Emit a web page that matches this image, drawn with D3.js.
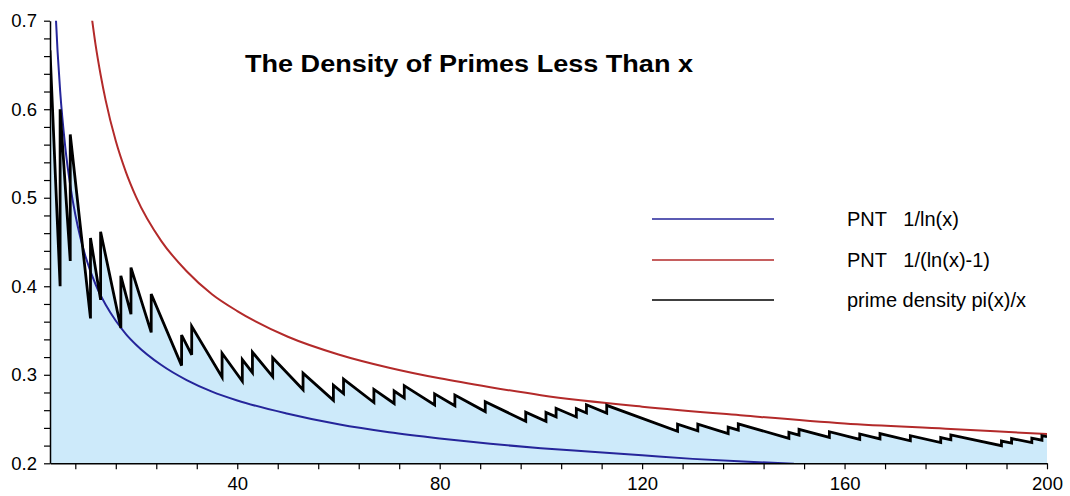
<!DOCTYPE html>
<html>
<head>
<meta charset="utf-8">
<script src="https://cdn.jsdelivr.net/npm/d3@7"></script>
<style>
  body { margin: 0; background: #fff; }
  text { font-family: "Liberation Sans", Arial, Helvetica, sans-serif; }
</style>
</head>
<body>
<svg id="chart"></svg>
<script>
// primes below 200 (for pi(x)/x)
const primes = [2, 3, 5, 7, 11, 13, 17, 19, 23, 29, 31, 37, 41, 43, 47, 53, 59, 61, 67, 71,
    73, 79, 83, 89, 97, 101, 103, 107, 109, 113, 127, 131, 137, 139, 149, 151, 157, 163,
    167, 173, 179, 181, 191, 193, 197, 199];

// PNT 1/ln(x)
const blueX = [4, 4.5, 5, 6, 7, 8, 9, 10, 12, 14, 16, 18, 20, 25, 30, 35, 40, 50, 60, 70,
    80, 90, 100, 110, 120, 130, 140, 150];
const blueY = [0.721, 0.665, 0.621, 0.558, 0.514, 0.481, 0.455, 0.434, 0.402, 0.379, 0.361,
    0.346, 0.334, 0.311, 0.294, 0.281, 0.271, 0.256, 0.244, 0.235, 0.228, 0.222, 0.217,
    0.213, 0.209, 0.205, 0.202, 0.1996];

// PNT 1/(ln(x)-1)
const redX = [11, 12, 13, 14, 16, 18, 20, 25, 30, 35, 40, 50, 60, 70, 80, 90, 100, 120,
    140, 160, 180, 200];
const redY = [0.715, 0.673, 0.639, 0.610, 0.564, 0.529, 0.501, 0.451, 0.417, 0.391, 0.372,
    0.343, 0.323, 0.308, 0.296, 0.286, 0.277, 0.264, 0.254, 0.245, 0.239, 0.233];

const xTickValues = [8, 16, 24, 32, 40, 48, 56, 64, 72, 80, 88, 96, 104, 112, 120, 128, 136,
    144, 152, 160, 168, 176, 184, 192, 200];
const xLabelValues = [40, 80, 120, 160, 200];
const yTickValues = [0.2, 0.22, 0.24, 0.26, 0.28, 0.3, 0.32, 0.34, 0.36, 0.38, 0.4, 0.42,
    0.44, 0.46, 0.48, 0.5, 0.52, 0.54, 0.56, 0.58, 0.6, 0.62, 0.64, 0.66, 0.68, 0.7];
const yLabelValues = [0.2, 0.3, 0.4, 0.5, 0.6, 0.7];

const titleText = 'The Density of Primes Less Than x';
const legendLabels = ['PNT   1/ln(x)', 'PNT   1/(ln(x)-1)', 'prime density pi(x)/x'];
const colors = ['#25259a', '#b32a2a', '#000000'];

const width = 1070;
const height = 496;
const xStart = 3, xEnd = 200;

const svg = d3.select('#chart')
    .attr('width', width)
    .attr('height', height);

const x = d3.scaleLinear().domain([xStart, xEnd]).range([50, 1047]);
const y = d3.scaleLinear().domain([0.2, 0.7]).range([463.3, 20.7]);

svg.append('clipPath').attr('id', 'plot-clip')
    .append('rect')
    .attr('x', x(xStart)).attr('y', y(0.7))
    .attr('width', x(xEnd) - x(xStart)).attr('height', y(0.2) - y(0.7));

// build pi(x)/x as a step-down sawtooth with jumps at each prime
let count = primes.filter(p => p <= xStart).length;
const density = [{ x: xStart, y: count / xStart }];
primes.filter(p => p > xStart).forEach(p => {
    density.push({ x: p, y: count / p });
    count += 1;
    density.push({ x: p, y: count / p });
});
density.push({ x: xEnd, y: count / xEnd });

const plot = svg.append('g').attr('clip-path', 'url(#plot-clip)');

// light blue fill under the prime density
plot.append('path')
    .datum(density)
    .attr('fill', '#cdeafa')
    .attr('d', d3.area().x(d => x(d.x)).y0(y(0.2)).y1(d => y(d.y)));

const smooth = d3.line().x(d => x(d[0])).y(d => y(d[1])).curve(d3.curveMonotoneX);

plot.append('path')
    .datum(blueX.map((v, i) => [v, blueY[i]]))
    .attr('fill', 'none')
    .attr('stroke', colors[0])
    .attr('stroke-width', 2)
    .attr('d', smooth);

plot.append('path')
    .datum(redX.map((v, i) => [v, redY[i]]))
    .attr('fill', 'none')
    .attr('stroke', colors[1])
    .attr('stroke-width', 2)
    .attr('d', smooth);

plot.append('path')
    .datum(density)
    .attr('fill', 'none')
    .attr('stroke', colors[2])
    .attr('stroke-width', 2.8)
    .attr('stroke-linejoin', 'miter')
    .attr('d', d3.line().x(d => x(d.x)).y(d => y(d.y)));

// axes
const xAxis = svg.append('g')
    .attr('transform', `translate(0,${y(0.2)})`)
    .call(d3.axisBottom(x)
        .tickValues(xTickValues)
        .tickSize(6)
        .tickSizeOuter(0)
        .tickFormat(d => xLabelValues.includes(d) ? d : ''));

const yAxis = svg.append('g')
    .attr('transform', `translate(${x(xStart)},0)`)
    .call(d3.axisLeft(y)
        .tickValues(yTickValues)
        .tickSize(6)
        .tickSizeOuter(0)
        .tickFormat(d => yLabelValues.some(v => Math.abs(v - d) < 1e-9) ? d3.format('.1f')(d) : ''));

[xAxis, yAxis].forEach(g => {
    g.select('.domain').attr('stroke', '#000').attr('stroke-width', 1.5);
    g.selectAll('.tick line').attr('stroke', '#000').attr('stroke-width', 1.2);
    g.selectAll('.tick text')
        .attr('fill', '#000')
        .style('font-size', '18.5px')
        .style('font-family', '"Liberation Sans", Arial, sans-serif');
});
xAxis.selectAll('.tick text').attr('y', 14);
yAxis.selectAll('.tick text').attr('x', -13);

// title
svg.append('text')
    .attr('x', 469)
    .attr('y', 72)
    .attr('text-anchor', 'middle')
    .attr('textLength', 448)
    .attr('lengthAdjust', 'spacingAndGlyphs')
    .style('font-size', '23px')
    .style('font-weight', 'bold')
    .text(titleText);

// legend
const legendY = [219, 260, 300];
const legend = svg.append('g');
legendLabels.forEach((label, i) => {
    legend.append('line')
        .attr('x1', 652).attr('x2', 774)
        .attr('y1', legendY[i]).attr('y2', legendY[i])
        .attr('stroke', colors[i])
        .attr('stroke-width', 1.5);
    legend.append('text')
        .attr('x', 847)
        .attr('y', legendY[i] + 7)
        .style('font-size', '20px')
        .style('white-space', 'pre')
        .text(label);
});
</script>
</body>
</html>
